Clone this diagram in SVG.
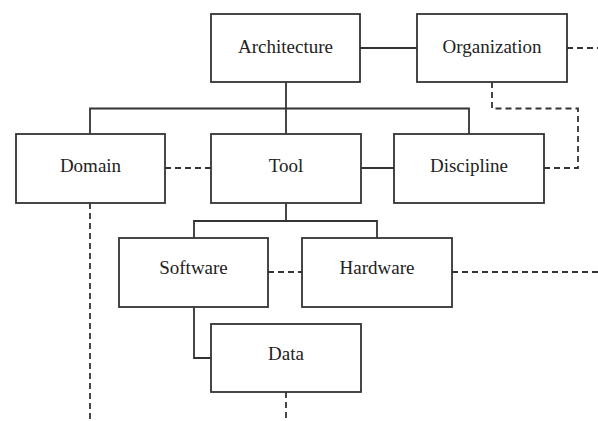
<svg xmlns="http://www.w3.org/2000/svg" width="598" height="421" viewBox="0 0 598 421">
<style>
.box{fill:#fff;stroke:#333;stroke-width:1.8}
.lbl{font-family:"Liberation Serif","Times New Roman",serif;font-size:19px;fill:#222;text-anchor:middle}
.solid{fill:none;stroke:#333;stroke-width:1.8}
.dash{fill:none;stroke:#333;stroke-width:1.8;stroke-dasharray:6 4}
</style>
<rect width="598" height="421" fill="#fff"/>
<g id="connectors">
<path class="solid" d="M360,48H417"/>
<path class="solid" d="M286,82V108.5M90,134V108.5H469V134M286,108.5V134"/>
<path class="solid" d="M361,168H394"/>
<path class="solid" d="M286,203V221M194,238V221H377V238"/>
<path class="solid" d="M194,307V358H211"/>
<path class="dash" d="M567,48H598"/>
<path class="dash" d="M492,82V108.5H578V168H544"/>
<path class="dash" d="M165,168H211"/>
<path class="dash" d="M90,203V421"/>
<path class="dash" d="M268,272H302"/>
<path class="dash" d="M452,272H598"/>
<path class="dash" d="M286,392V421"/>
</g>
<g id="architecture"><rect class="box" x="211" y="14" width="149" height="68"/><text class="lbl" x="285.5" y="53">Architecture</text></g>
<g id="organization"><rect class="box" x="417" y="14" width="150" height="68"/><text class="lbl" x="492" y="53">Organization</text></g>
<g id="domain"><rect class="box" x="16" y="134" width="149" height="69"/><text class="lbl" x="90.5" y="172">Domain</text></g>
<g id="tool"><rect class="box" x="211" y="134" width="150" height="69"/><text class="lbl" x="286" y="172">Tool</text></g>
<g id="discipline"><rect class="box" x="394" y="134" width="150" height="69"/><text class="lbl" x="469" y="172">Discipline</text></g>
<g id="software"><rect class="box" x="119" y="238" width="149" height="69"/><text class="lbl" x="193.5" y="274">Software</text></g>
<g id="hardware"><rect class="box" x="302" y="238" width="150" height="69"/><text class="lbl" x="377" y="274">Hardware</text></g>
<g id="data"><rect class="box" x="211" y="324" width="150" height="68"/><text class="lbl" x="286" y="360">Data</text></g>
</svg>
